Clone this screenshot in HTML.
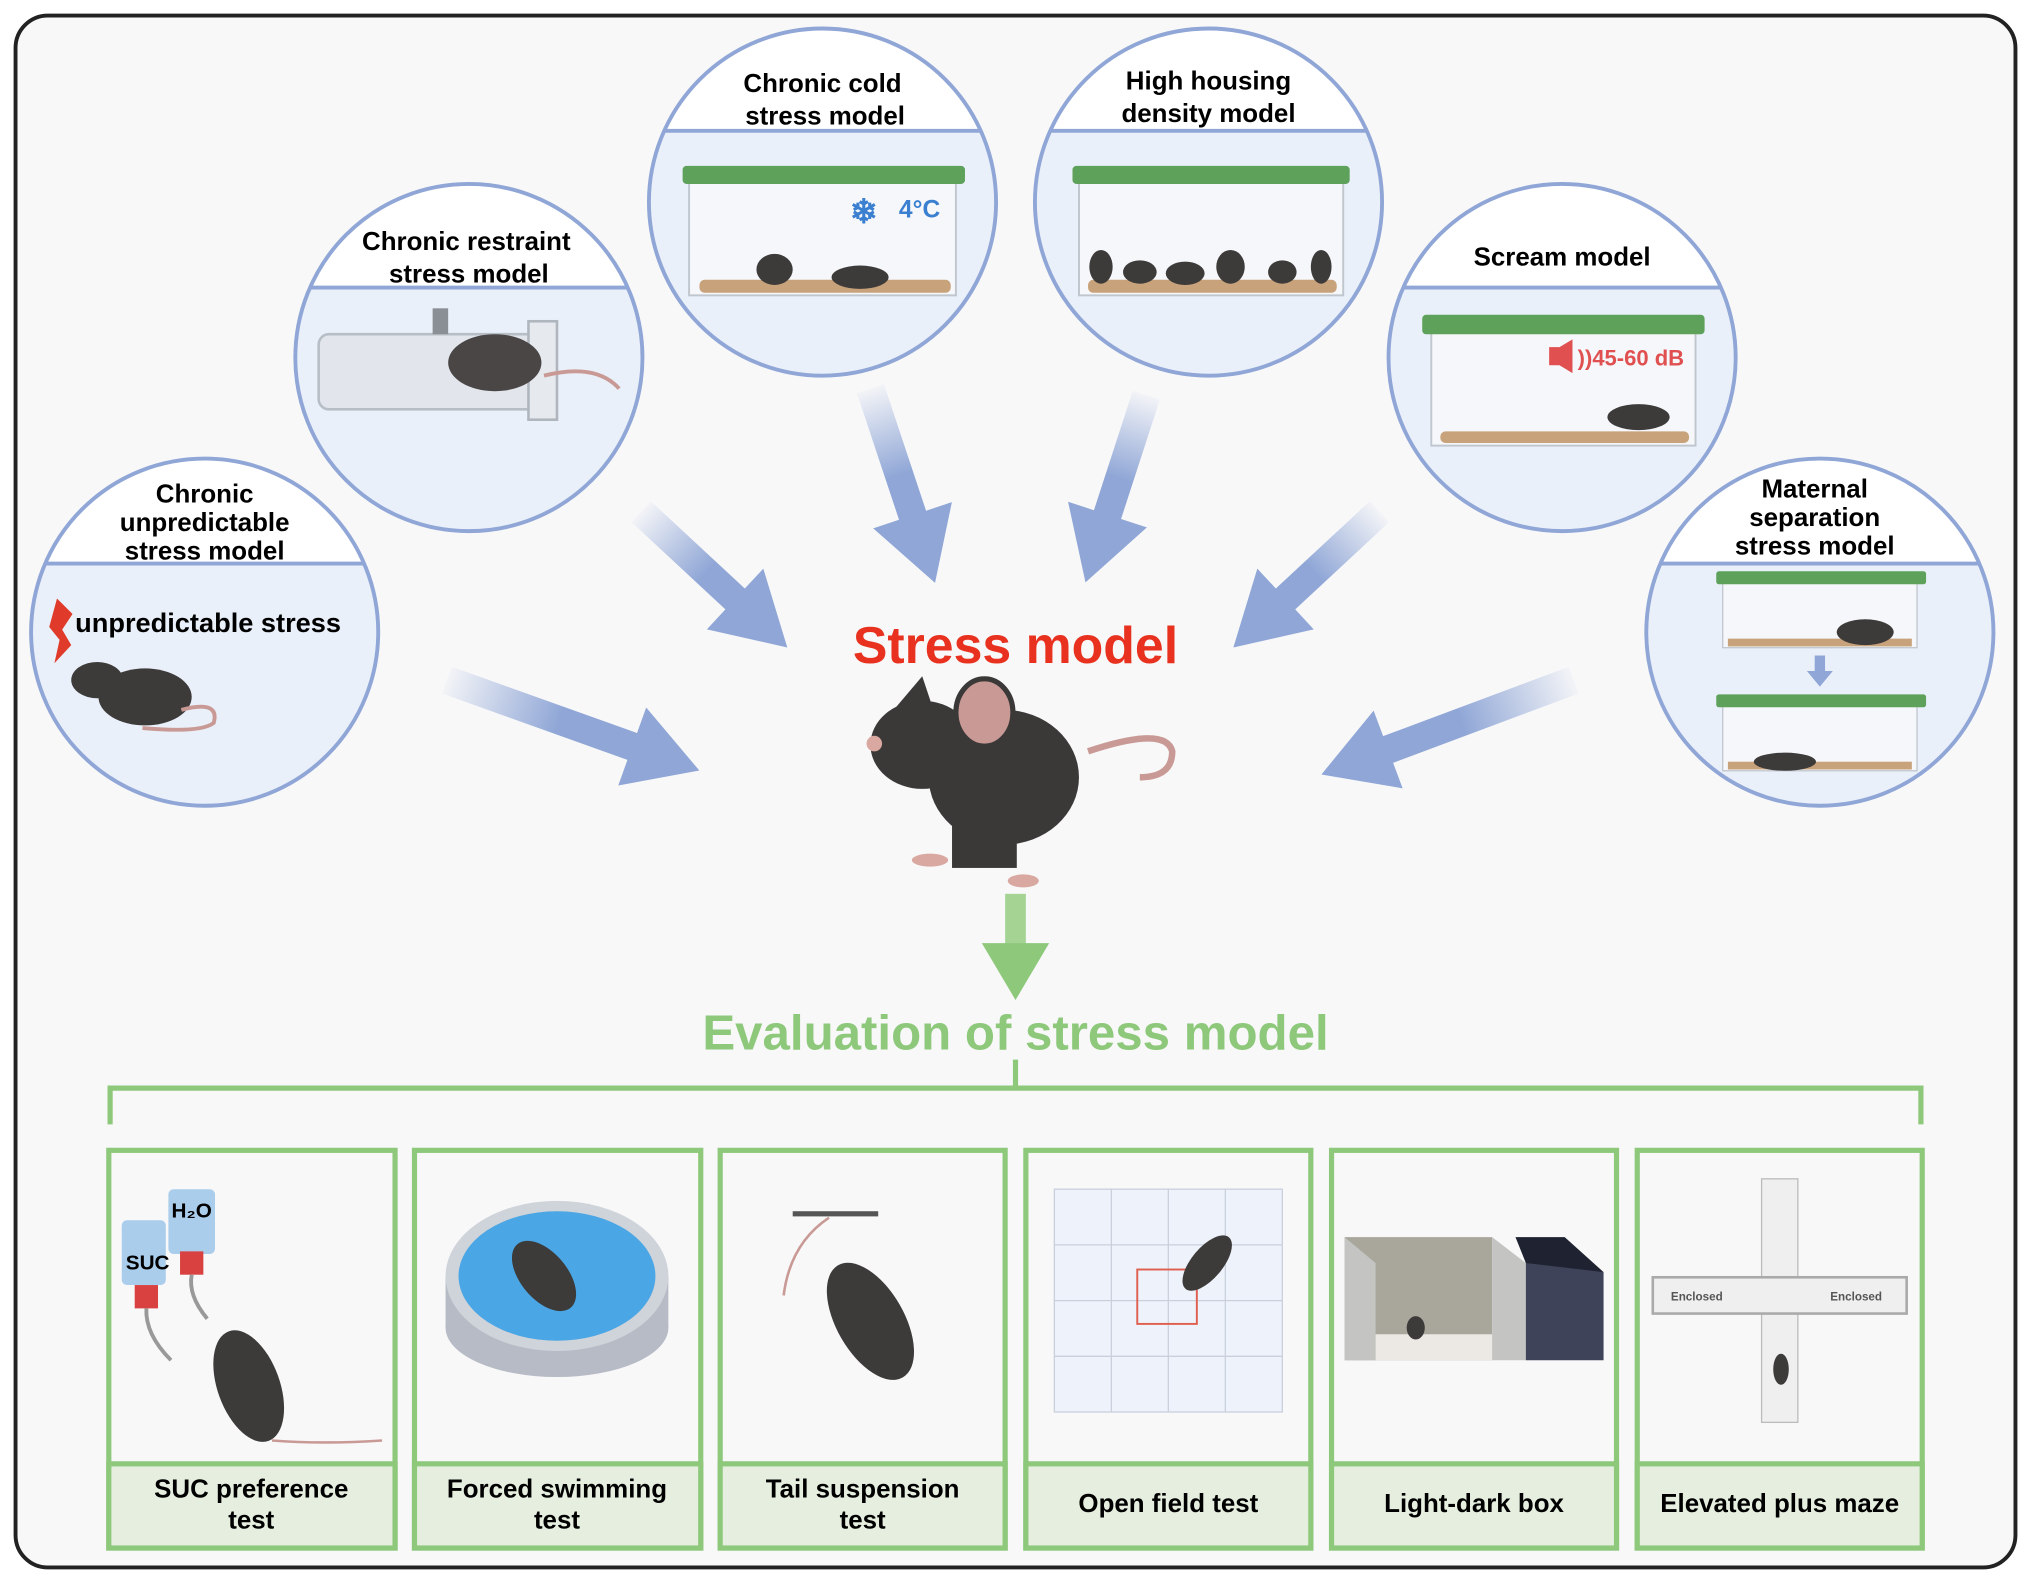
<!DOCTYPE html>
<html><head><meta charset="utf-8"><style>
html,body{margin:0;padding:0;background:#fff;}
svg{display:block;}
text{font-family:"Liberation Sans",sans-serif;font-weight:bold;}
</style></head><body>
<svg width="2031" height="1583" viewBox="0 0 1568 1222" preserveAspectRatio="none" xmlns="http://www.w3.org/2000/svg">
<defs>
<linearGradient id="ag" x1="0" y1="0" x2="1" y2="0">
<stop offset="0" stop-color="#8fa6d6" stop-opacity="0.05"/>
<stop offset="0.45" stop-color="#8fa6d6" stop-opacity="1"/>
<stop offset="1" stop-color="#8fa6d6"/>
</linearGradient>
<clipPath id="c1"><circle cx="158" cy="488" r="134"/></clipPath>
<clipPath id="c2"><circle cx="362" cy="276" r="134"/></clipPath>
<clipPath id="c3"><circle cx="635" cy="156" r="134"/></clipPath>
<clipPath id="c4"><circle cx="933" cy="156" r="134"/></clipPath>
<clipPath id="c5"><circle cx="1206" cy="276" r="134"/></clipPath>
<clipPath id="c6"><circle cx="1405" cy="488" r="134"/></clipPath>
</defs>
<rect x="12" y="12" width="1544" height="1198" rx="25" fill="#f8f8f9" stroke="#222" stroke-width="3"/>

<!-- circles -->
<g>
<circle cx="158" cy="488" r="134" fill="#eaf0f9"/>
<rect x="20" y="350" width="280" height="85" fill="#fff" clip-path="url(#c1)"/>
<line x1="24" y1="435" x2="292" y2="435" stroke="#8fa6d6" stroke-width="3" clip-path="url(#c1)"/>
<circle cx="158" cy="488" r="134" fill="none" stroke="#8fa6d6" stroke-width="3"/>
<text x="158" y="388" font-size="20" text-anchor="middle">Chronic</text>
<text x="158" y="410" font-size="20" text-anchor="middle">unpredictable</text>
<text x="158" y="432" font-size="20" text-anchor="middle">stress model</text>
<polygon points="44,462 56,474 48,486 55,498 42,512 46,494 38,484" fill="#e03a2a"/>
<text x="58" y="488" font-size="21">unpredictable stress</text>
<ellipse cx="112" cy="538" rx="36" ry="22" fill="#3d3a3a"/>
<ellipse cx="75" cy="525" rx="20" ry="14" fill="#3d3a3a"/>
<path d="M140 548 Q170 540 165 558 Q155 566 110 562" fill="none" stroke="#c99a95" stroke-width="3"/>

<circle cx="362" cy="276" r="134" fill="#eaf0f9"/>
<rect x="220" y="140" width="290" height="82" fill="#fff" clip-path="url(#c2)"/>
<line x1="228" y1="222" x2="496" y2="222" stroke="#8fa6d6" stroke-width="3" clip-path="url(#c2)"/>
<circle cx="362" cy="276" r="134" fill="none" stroke="#8fa6d6" stroke-width="3"/>
<text x="360" y="193" font-size="20" text-anchor="middle">Chronic restraint</text>
<text x="362" y="218" font-size="20" text-anchor="middle">stress model</text>
<rect x="246" y="258" width="170" height="58" rx="8" fill="#e2e6ec" stroke="#b8bec6" stroke-width="2"/>
<rect x="408" y="248" width="22" height="76" fill="#e6e9ee" stroke="#b0b6be" stroke-width="2"/>
<rect x="334" y="238" width="12" height="20" fill="#8a8f96"/>
<ellipse cx="382" cy="280" rx="36" ry="22" fill="#4a4646"/>
<path d="M420 290 Q460 280 478 300" fill="none" stroke="#c99a95" stroke-width="3"/>

<circle cx="635" cy="156" r="134" fill="#eaf0f9"/>
<rect x="495" y="18" width="280" height="83" fill="#fff" clip-path="url(#c3)"/>
<line x1="501" y1="101" x2="769" y2="101" stroke="#8fa6d6" stroke-width="3" clip-path="url(#c3)"/>
<circle cx="635" cy="156" r="134" fill="none" stroke="#8fa6d6" stroke-width="3"/>
<text x="635" y="71" font-size="20" text-anchor="middle">Chronic cold</text>
<text x="637" y="96" font-size="20" text-anchor="middle">stress model</text>
<rect x="532" y="136" width="206" height="92" fill="#f5f7fa" stroke="#c0c6ce" stroke-width="1.5"/>
<rect x="527" y="128" width="218" height="14" rx="3" fill="#5ea15a"/>
<rect x="540" y="216" width="194" height="10" rx="4" fill="#c8a27a"/>
<text x="656" y="172" font-size="26" fill="#3a7fd0">❄</text>
<text x="694" y="168" font-size="19" fill="#3a7fd0">4°C</text>
<ellipse cx="598" cy="208" rx="14" ry="12" fill="#3d3a3a"/>
<ellipse cx="664" cy="214" rx="22" ry="9" fill="#3d3a3a"/>

<circle cx="933" cy="156" r="134" fill="#eaf0f9"/>
<rect x="793" y="18" width="280" height="83" fill="#fff" clip-path="url(#c4)"/>
<line x1="799" y1="101" x2="1067" y2="101" stroke="#8fa6d6" stroke-width="3" clip-path="url(#c4)"/>
<circle cx="933" cy="156" r="134" fill="none" stroke="#8fa6d6" stroke-width="3"/>
<text x="933" y="69" font-size="20" text-anchor="middle">High housing</text>
<text x="933" y="94" font-size="20" text-anchor="middle">density model</text>
<rect x="833" y="136" width="204" height="92" fill="#f5f7fa" stroke="#c0c6ce" stroke-width="1.5"/>
<rect x="828" y="128" width="214" height="14" rx="3" fill="#5ea15a"/>
<rect x="840" y="216" width="192" height="10" rx="4" fill="#c8a27a"/>
<g fill="#3d3a3a"><ellipse cx="850" cy="206" rx="9" ry="13"/><ellipse cx="880" cy="210" rx="13" ry="9"/><ellipse cx="915" cy="211" rx="15" ry="9"/><ellipse cx="950" cy="206" rx="11" ry="13"/><ellipse cx="990" cy="210" rx="11" ry="9"/><ellipse cx="1020" cy="206" rx="8" ry="13"/></g>

<circle cx="1206" cy="276" r="134" fill="#eaf0f9"/>
<rect x="1066" y="138" width="280" height="84" fill="#fff" clip-path="url(#c5)"/>
<line x1="1072" y1="222" x2="1340" y2="222" stroke="#8fa6d6" stroke-width="3" clip-path="url(#c5)"/>
<circle cx="1206" cy="276" r="134" fill="none" stroke="#8fa6d6" stroke-width="3"/>
<text x="1206" y="205" font-size="20" text-anchor="middle">Scream model</text>
<rect x="1105" y="252" width="204" height="92" fill="#f5f7fa" stroke="#c0c6ce" stroke-width="1.5"/>
<rect x="1098" y="243" width="218" height="15" rx="3" fill="#5ea15a"/>
<rect x="1112" y="333" width="192" height="9" rx="4" fill="#c8a27a"/>
<polygon points="1196,268 1204,268 1214,262 1214,288 1204,282 1196,282" fill="#e05050"/>
<text x="1218" y="282" font-size="17" fill="#e05050">))45-60 dB</text>
<ellipse cx="1265" cy="322" rx="24" ry="10" fill="#3d3a3a"/>

<circle cx="1405" cy="488" r="134" fill="#eaf0f9"/>
<rect x="1265" y="350" width="280" height="85" fill="#fff" clip-path="url(#c6)"/>
<line x1="1271" y1="435" x2="1540" y2="435" stroke="#8fa6d6" stroke-width="3" clip-path="url(#c6)"/>
<circle cx="1405" cy="488" r="134" fill="none" stroke="#8fa6d6" stroke-width="3"/>
<text x="1401" y="384" font-size="20" text-anchor="middle">Maternal</text>
<text x="1401" y="406" font-size="20" text-anchor="middle">separation</text>
<text x="1401" y="428" font-size="20" text-anchor="middle">stress model</text>
<rect x="1330" y="448" width="150" height="52" fill="#f5f7fa" stroke="#c0c6ce"/>
<rect x="1325" y="441" width="162" height="10" rx="2" fill="#5ea15a"/>
<rect x="1334" y="493" width="142" height="6" fill="#c8a27a"/>
<ellipse cx="1440" cy="488" rx="22" ry="10" fill="#3d3a3a"/>
<polygon points="1401,506 1409,506 1409,518 1415,518 1405,530 1395,518 1401,518" fill="#8fa6d6"/>
<rect x="1330" y="543" width="150" height="52" fill="#f5f7fa" stroke="#c0c6ce"/>
<rect x="1325" y="536" width="162" height="10" rx="2" fill="#5ea15a"/>
<rect x="1334" y="588" width="142" height="6" fill="#c8a27a"/>
<ellipse cx="1378" cy="588" rx="24" ry="7" fill="#3d3a3a"/>
</g>

<!-- blue arrows -->
<g fill="url(#ag)">
<polygon transform="translate(345,525) rotate(19.7)" points="0,-11 152,-11 152,-32 207,0 152,32 152,11 0,11"/>
<polygon transform="translate(495,395) rotate(42.9)" points="0,-11 99,-11 99,-32 154,0 99,32 99,11 0,11"/>
<polygon transform="translate(672,300) rotate(71.6)" points="0,-11 103,-11 103,-32 158,0 103,32 103,11 0,11"/>
<polygon transform="translate(885,305) rotate(108)" points="0,-11 97,-11 97,-32 152,0 97,32 97,11 0,11"/>
<polygon transform="translate(1065,395) rotate(137.1)" points="0,-11 99,-11 99,-32 154,0 99,32 99,11 0,11"/>
<polygon transform="translate(1215,525) rotate(159.5)" points="0,-11 153,-11 153,-32 208,0 153,32 153,11 0,11"/>
</g>

<text x="784" y="512" font-size="40" fill="#e8321f" text-anchor="middle">Stress model</text>
<!-- central mouse -->
<path d="M840 580 Q900 560 905 580 Q905 600 880 600" fill="none" stroke="#c99a95" stroke-width="5"/>
<ellipse cx="775" cy="600" rx="58" ry="52" fill="#3b3838"/>
<ellipse cx="712" cy="575" rx="40" ry="34" fill="#3b3838"/>
<polygon points="690,548 712,522 722,552" fill="#3b3838"/>
<ellipse cx="760" cy="550" rx="22" ry="26" fill="#c99a95" stroke="#3b3838" stroke-width="4"/>
<rect x="735" y="630" width="50" height="40" fill="#3b3838"/>
<ellipse cx="718" cy="664" rx="14" ry="5" fill="#d9a8a0"/>
<ellipse cx="790" cy="680" rx="12" ry="5" fill="#d9a8a0"/>
<circle cx="675" cy="574" r="6" fill="#d9a8a0"/>

<!-- green arrow -->
<rect x="776" y="690" width="16" height="40" fill="#8ec97b" opacity="0.8"/>
<polygon points="758,728 810,728 784,772" fill="#8ec97b"/>
<text x="784" y="810" font-size="38" fill="#8dc87b" text-anchor="middle">Evaluation of stress model</text>
<path d="M85 868 V840 H1483 V868 M784 818 V840" fill="none" stroke="#8dc87b" stroke-width="4"/>

<!-- boxes -->
<g stroke="#8dc87b" stroke-width="4">
<rect x="84" y="888" width="221" height="307" fill="#f8f8f9"/>
<rect x="320" y="888" width="221" height="307" fill="#f8f8f9"/>
<rect x="556" y="888" width="220" height="307" fill="#f8f8f9"/>
<rect x="792" y="888" width="220" height="307" fill="#f8f8f9"/>
<rect x="1028" y="888" width="220" height="307" fill="#f8f8f9"/>
<rect x="1264" y="888" width="220" height="307" fill="#f8f8f9"/>
<rect x="84" y="1130" width="221" height="65" fill="#e6efdf"/>
<rect x="320" y="1130" width="221" height="65" fill="#e6efdf"/>
<rect x="556" y="1130" width="220" height="65" fill="#e6efdf"/>
<rect x="792" y="1130" width="220" height="65" fill="#e6efdf"/>
<rect x="1028" y="1130" width="220" height="65" fill="#e6efdf"/>
<rect x="1264" y="1130" width="220" height="65" fill="#e6efdf"/>
</g>
<g font-size="20" text-anchor="middle">
<text x="194" y="1156">SUC preference</text><text x="194" y="1180">test</text>
<text x="430" y="1156">Forced swimming</text><text x="430" y="1180">test</text>
<text x="666" y="1156">Tail suspension</text><text x="666" y="1180">test</text>
<text x="902" y="1167">Open field test</text>
<text x="1138" y="1167">Light-dark box</text>
<text x="1374" y="1167">Elevated plus maze</text>
</g>

<!-- box illustrations -->
<rect x="94" y="942" width="34" height="50" rx="4" fill="#a9cdeb"/>
<rect x="130" y="918" width="36" height="50" rx="4" fill="#a9cdeb"/>
<rect x="104" y="992" width="18" height="18" fill="#d94040"/>
<rect x="139" y="966" width="18" height="18" fill="#d94040"/>
<text x="114" y="980" font-size="16" text-anchor="middle">SUC</text>
<text x="148" y="940" font-size="16" text-anchor="middle">H₂O</text>
<path d="M113 1010 Q112 1030 132 1050 M148 984 Q145 1000 160 1018" stroke="#999" stroke-width="3" fill="none"/>
<ellipse cx="192" cy="1070" rx="24" ry="45" transform="rotate(-20 192 1070)" fill="#3d3a3a"/>
<path d="M210 1112 Q250 1115 295 1112" stroke="#c99a95" stroke-width="2" fill="none"/>

<ellipse cx="430" cy="1025" rx="86" ry="38" fill="#b6bbc5"/>
<rect x="344" y="985" width="172" height="40" fill="#b6bbc5"/>
<ellipse cx="430" cy="985" rx="86" ry="58" fill="#cfd3da"/>
<ellipse cx="430" cy="985" rx="76" ry="50" fill="#4aa6e4"/>
<ellipse cx="420" cy="985" rx="18" ry="32" transform="rotate(-40 420 985)" fill="#3d3a3a"/>

<rect x="612" y="935" width="66" height="4" fill="#555"/>
<path d="M640 940 Q610 960 605 1000" stroke="#c99a95" stroke-width="2" fill="none"/>
<ellipse cx="672" cy="1020" rx="26" ry="50" transform="rotate(-30 672 1020)" fill="#3d3a3a"/>

<rect x="814" y="918" width="176" height="172" fill="#eef3fb" stroke="#c9d0dc"/>
<g stroke="#c9d0dc"><line x1="858" y1="918" x2="858" y2="1090"/><line x1="902" y1="918" x2="902" y2="1090"/><line x1="946" y1="918" x2="946" y2="1090"/><line x1="814" y1="961" x2="990" y2="961"/><line x1="814" y1="1004" x2="990" y2="1004"/><line x1="814" y1="1047" x2="990" y2="1047"/></g>
<rect x="878" y="980" width="46" height="42" fill="none" stroke="#e06050" stroke-width="1.5"/>
<ellipse cx="932" cy="975" rx="12" ry="26" transform="rotate(40 932 975)" fill="#3d3a3a"/>

<polygon points="1038,955 1152,955 1152,1050 1038,1050" fill="#a9a69c"/>
<polygon points="1038,955 1062,975 1062,1050 1038,1050" fill="#c4c5c2"/>
<polygon points="1062,1030 1152,1030 1152,1050 1062,1050" fill="#ece9e4"/>
<polygon points="1152,955 1178,975 1178,1050 1152,1050" fill="#c4c5c2"/>
<polygon points="1178,955 1238,982 1238,1050 1178,1050" fill="#3e435a"/>
<polygon points="1170,955 1208,955 1238,982 1178,975" fill="#1f2230"/>
<ellipse cx="1093" cy="1025" rx="7" ry="9" fill="#3d3a3a"/>

<rect x="1360" y="910" width="28" height="188" fill="#efefef" stroke="#bbb"/>
<rect x="1276" y="986" width="196" height="28" fill="#efefef" stroke="#aaa" stroke-width="2"/>
<text x="1310" y="1004" font-size="9" text-anchor="middle" fill="#555">Enclosed</text>
<text x="1433" y="1004" font-size="9" text-anchor="middle" fill="#555">Enclosed</text>
<ellipse cx="1375" cy="1057" rx="6" ry="12" fill="#3d3a3a"/>
</svg>
</body></html>
